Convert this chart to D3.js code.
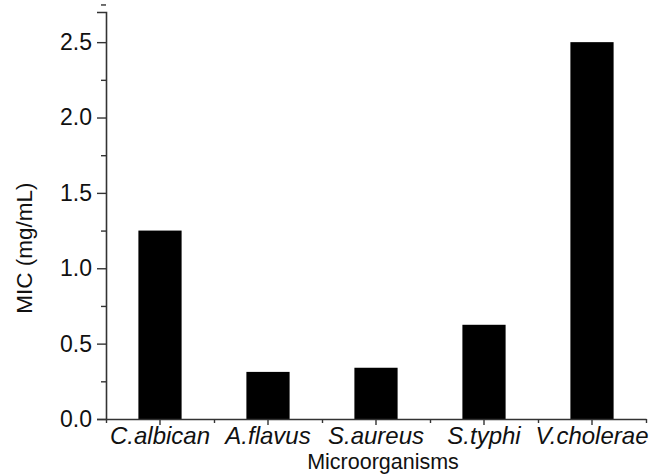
<!DOCTYPE html>
<html lang="en">
<head>
    <meta charset="UTF-8">
    <title>MIC</title>
    <script src="https://cdn.jsdelivr.net/npm/d3@7"></script>
    <style>
        body{margin:0;background:#fff;}
        text{font-family:"Liberation Sans",Arial,sans-serif;fill:#111;}
    </style>
</head>
<body>
<svg width="667" height="474"></svg>
<script>
var categories=['C.albican','A.flavus','S.aureus','S.typhi','V.cholerae'];
var micValues=[1.25,0.3125,0.34,0.625,2.5];
var yTicks=[0.0,0.5,1.0,1.5,2.0,2.5];

var svg=d3.select('svg');
var plotLeft=106,plotRight=646,plotTop=12,plotBottom=419;

var x=d3.scaleBand()
    .domain(categories)
    .range([plotLeft,plotRight])
    .paddingInner(0.6)
    .paddingOuter(0.3);
var y=d3.scaleLinear()
    .domain([0,2.7])
    .range([plotBottom,plotTop]);

// bars
svg.selectAll('rect.bar')
    .data(categories)
    .enter().append('rect')
    .attr('class','bar')
    .attr('x',d=>x(d))
    .attr('width',x.bandwidth())
    .attr('y',(d,i)=>y(micValues[i]))
    .attr('height',(d,i)=>y(0)-y(micValues[i]))
    .attr('fill','#000');

// y axis, major + minor ticks
var yAxis=svg.append('g')
    .attr('transform','translate('+plotLeft+',0)')
    .call(d3.axisLeft(y).tickValues(yTicks).tickSize(9).tickPadding(5).tickFormat(d3.format('.1f')));
svg.append('g')
    .attr('transform','translate('+plotLeft+',0)')
    .call(d3.axisLeft(y).tickValues(yTicks.map(v=>v+0.25)).tickSize(5).tickFormat(''))
    .select('.domain').remove();

// x axis: labels at bar centers, small ticks at band edges
var xAxis=svg.append('g')
    .attr('transform','translate(0,'+plotBottom+')')
    .call(d3.axisBottom(x).tickSize(6).tickPadding(2).tickSizeOuter(0));
var edges=d3.scaleLinear().domain([0,categories.length]).range([plotLeft,plotRight]);
svg.append('g')
    .attr('transform','translate(0,'+plotBottom+')')
    .call(d3.axisBottom(edges).ticks(categories.length).tickSize(4).tickFormat(''))
    .select('.domain').remove();

svg.selectAll('.domain').attr('stroke','#333').attr('stroke-width',1.6);
svg.selectAll('.tick line').attr('stroke','#333').attr('stroke-width',1.4);

yAxis.selectAll('text')
    .style('font-size','23px')
    .attr('fill','#111');
xAxis.selectAll('text')
    .style('font-size','24px')
    .style('font-style','italic')
    .attr('fill','#111');

// axis titles
svg.append('text')
    .attr('transform','translate(32,248) rotate(-90)')
    .attr('text-anchor','middle')
    .style('font-size','22.5px')
    .text('MIC (mg/mL)');
svg.append('text')
    .attr('x',383)
    .attr('y',469.3)
    .attr('text-anchor','middle')
    .style('font-size','21.5px')
    .text('Microorganisms');
</script>
</body>
</html>
